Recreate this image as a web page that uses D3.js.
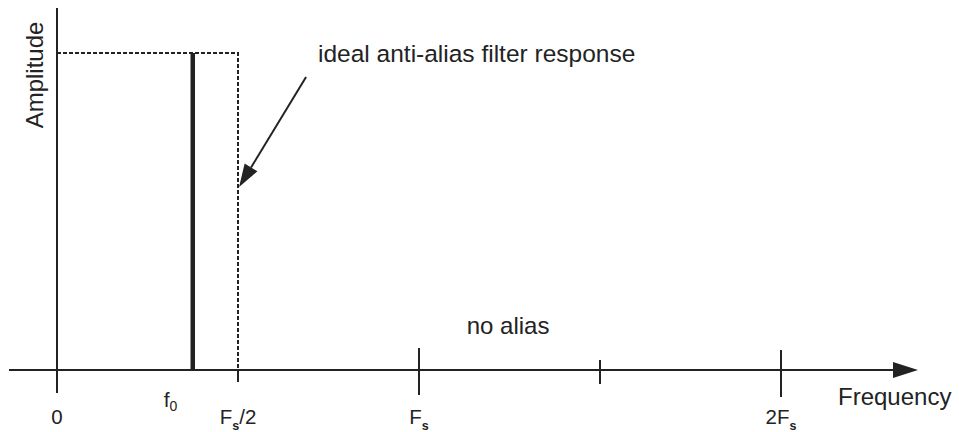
<!DOCTYPE html>
<html>
<head>
<meta charset="utf-8">
<script src="https://cdn.jsdelivr.net/npm/d3@7"></script>
<style>
  html, body { margin: 0; padding: 0; background: #fff; }
  svg { display: block; }
  text { font-family: "Liberation Sans", Arial, sans-serif; fill: #232323; }
</style>
</head>
<body>
<svg id="chart" width="959" height="432"></svg>
<script>
// Frequency in units of the sampling rate Fs, amplitude normalised to 1
const tickValues = [0, 0.5, 1, 1.5, 2];
const tickLabels = [
  { main: "0", sub: "", tail: "" },
  { main: "F", sub: "s", tail: "/2" },
  { main: "F", sub: "s", tail: "" },
  { main: "", sub: "", tail: "" },
  { main: "2F", sub: "s", tail: "" }
];
const signalFreq = 0.375;          // f0
const signalAmp = 1;
const filterFreq = [0, 0.5, 0.5];  // ideal brick-wall low-pass
const filterAmp = [1, 1, 0];
const annotationText = "ideal anti-alias filter response";
const noAliasText = "no alias";

// tick extents (px above / below the axis) for each tick
const tickUp = [0, 0, 22, 10, 20];
const tickDown = [23, 12, 25, 14, 27];

const svg = d3.select("#chart");
const ink = "#222";

const x = d3.scaleLinear().domain([0, 2]).range([57, 781]);
const y = d3.scaleLinear().domain([0, 1]).range([370, 53]);

// axes
svg.append("line")
  .attr("x1", 9).attr("x2", 900)
  .attr("y1", y(0)).attr("y2", y(0))
  .attr("stroke", ink).attr("stroke-width", 2);
svg.append("path")
  .attr("d", d3.line()([[893, y(0) - 8], [918, y(0)], [893, y(0) + 8]]) + "Z")
  .attr("fill", ink);
svg.append("line")
  .attr("x1", x(0)).attr("x2", x(0))
  .attr("y1", 8).attr("y2", y(0) + tickDown[0])
  .attr("stroke", ink).attr("stroke-width", 2);

// ticks
const ticks = svg.append("g");
tickValues.forEach((v, i) => {
  ticks.append("line")
    .attr("x1", x(v)).attr("x2", x(v))
    .attr("y1", y(0) - tickUp[i]).attr("y2", y(0) + tickDown[i])
    .attr("stroke", ink).attr("stroke-width", 2);
  const lab = tickLabels[i];
  if (!lab.main && !lab.tail) return;
  const t = ticks.append("text")
    .attr("x", x(v)).attr("y", 424)
    .attr("text-anchor", "middle")
    .attr("font-size", 20.5);
  t.append("tspan").text(lab.main);
  if (lab.sub) {
    t.append("tspan").text(lab.sub)
      .attr("font-size", 12.5).attr("font-weight", "bold").attr("dy", 6);
  }
  if (lab.tail) {
    t.append("tspan").text(lab.tail).attr("dy", -6);
  }
});

// filter response (dashed)
svg.append("path")
  .attr("d", d3.line()(filterFreq.map((f, i) => [x(f), y(filterAmp[i])])))
  .attr("fill", "none").attr("stroke", ink)
  .attr("stroke-width", 2).attr("stroke-dasharray", "4,2");

// signal spike at f0
svg.append("line")
  .attr("x1", x(signalFreq)).attr("x2", x(signalFreq))
  .attr("y1", y(signalAmp)).attr("y2", y(0))
  .attr("stroke", ink).attr("stroke-width", 4.5);

// f0 label
const f0 = svg.append("text")
  .attr("x", x(signalFreq) - 29).attr("y", 407)
  .attr("font-size", 21);
f0.append("tspan").text("f");
f0.append("tspan").text("0").attr("font-size", 14).attr("dy", 4);

// annotation arrow pointing to the filter edge
const arrowFrom = [0.688, 0.924];
const arrowTo = [0.503, 0.577];
const p0 = [x(arrowFrom[0]), y(arrowFrom[1])];
const p1 = [x(arrowTo[0]), y(arrowTo[1])];
const ang = Math.atan2(p1[1] - p0[1], p1[0] - p0[0]);
const headLen = 23, headHalf = 7.5;
const base = [p1[0] - headLen * Math.cos(ang), p1[1] - headLen * Math.sin(ang)];
svg.append("line")
  .attr("x1", p0[0]).attr("y1", p0[1])
  .attr("x2", base[0]).attr("y2", base[1])
  .attr("stroke", ink).attr("stroke-width", 2);
svg.append("path")
  .attr("d", d3.line()([
    p1,
    [base[0] + headHalf * Math.sin(ang), base[1] - headHalf * Math.cos(ang)],
    [base[0] - headHalf * Math.sin(ang), base[1] + headHalf * Math.cos(ang)]
  ]) + "Z")
  .attr("fill", ink);

svg.append("text")
  .attr("x", x(0.721)).attr("y", y(0.972))
  .attr("font-size", 24.5)
  .text(annotationText);

svg.append("text")
  .attr("x", x(1.246)).attr("y", y(0.114))
  .attr("text-anchor", "middle")
  .attr("font-size", 24)
  .text(noAliasText);

// axis titles
svg.append("text")
  .attr("x", 838).attr("y", 405)
  .attr("font-size", 24)
  .text("Frequency");

svg.append("text")
  .attr("transform", "translate(43,75) rotate(-90)")
  .attr("text-anchor", "middle")
  .attr("font-size", 24)
  .text("Amplitude");
</script>
</body>
</html>
